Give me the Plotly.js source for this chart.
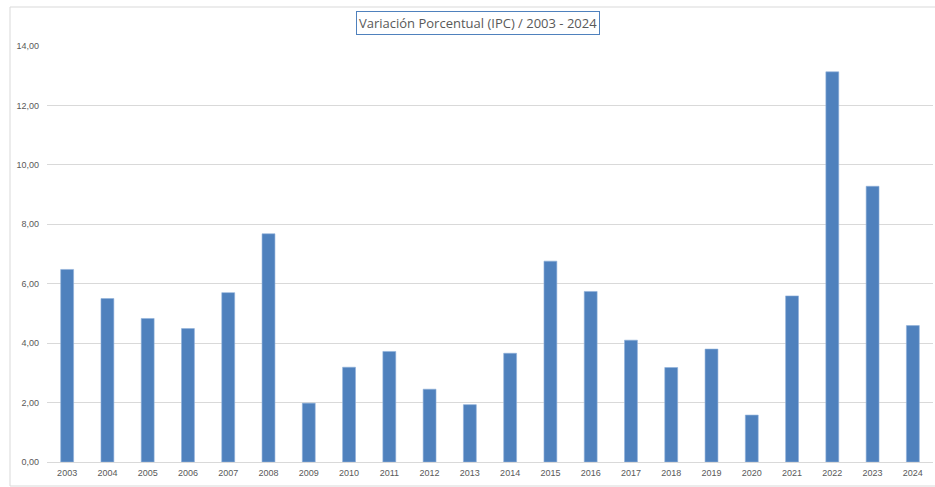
<!DOCTYPE html>
<html>
<head>
<meta charset="utf-8">
<script src="https://cdn.plot.ly/plotly-3.0.1.min.js"></script>
<style>html,body{margin:0;padding:0;background:#fff;}#chart{width:935px;height:487px;}</style>
</head>
<body>
<div id="chart"></div>
<script>
const years = ["2003","2004","2005","2006","2007","2008","2009","2010","2011","2012","2013","2014","2015","2016","2017","2018","2019","2020","2021","2022","2023","2024"];
const ipcVariation = [6.48,5.50,4.83,4.49,5.70,7.68,1.98,3.19,3.72,2.45,1.93,3.66,6.76,5.74,4.10,3.18,3.80,1.58,5.59,13.13,9.28,4.59];
const chartTitle = "Variación Porcentual (IPC) / 2003 - 2024";

const W = 935, H = 487;
const mL = 47, mR = 2, mT = 46, mB = 25;
const pw = W - mL - mR, ph = H - mT - mB;
const px = x => (x - mL) / pw;
const py = y => (H - mB - y) / ph;

const trace = {
  type: 'bar',
  x: years,
  y: ipcVariation,
  marker: {color: '#4F81BD', line: {color: '#8fb0da', width: 0.6}},
  hoverinfo: 'x+y'
};

const layout = {
  width: W, height: H,
  margin: {l: mL, r: mR, t: mT, b: mB},
  paper_bgcolor: '#ffffff',
  plot_bgcolor: '#ffffff',
  showlegend: false,
  bargap: 0.68,
  separators: ',.',
  font: {family: 'Liberation Sans, Arial, sans-serif', color: '#595959', size: 9},
  xaxis: {
    type: 'category',
    showgrid: false,
    showline: true,
    linecolor: '#d9d9d9',
    linewidth: 1,
    ticks: '',
    tickfont: {size: 9, color: '#595959'},
    ticklabelstandoff: 2,
    fixedrange: true
  },
  yaxis: {
    range: [0, 14],
    dtick: 2,
    tick0: 0,
    tickformat: '.2f',
    showgrid: true,
    gridcolor: '#d9d9d9',
    gridwidth: 1,
    zeroline: false,
    showline: false,
    ticks: '',
    tickfont: {size: 9, color: '#595959'},
    ticklabelstandoff: 7,
    fixedrange: true
  },
  shapes: [
    {type: 'rect', xref: 'paper', yref: 'paper',
     x0: px(10), x1: px(940), y0: py(486), y1: py(7),
     line: {color: '#d9d9d9', width: 1}, fillcolor: 'rgba(0,0,0,0)', layer: 'below'}
  ],
  annotations: [
    {text: chartTitle, xref: 'paper', yref: 'paper',
     x: px(478), y: py(23.5), xanchor: 'center', yanchor: 'middle',
     showarrow: false,
     font: {family: 'Open Sans, Liberation Sans, sans-serif', size: 13, color: '#595959'},
     bordercolor: '#4F81BD', borderwidth: 1, borderpad: 2, bgcolor: '#ffffff'}
  ]
};

Plotly.newPlot('chart', [trace], layout, {displayModeBar: false, staticPlot: true});
</script>
</body>
</html>
